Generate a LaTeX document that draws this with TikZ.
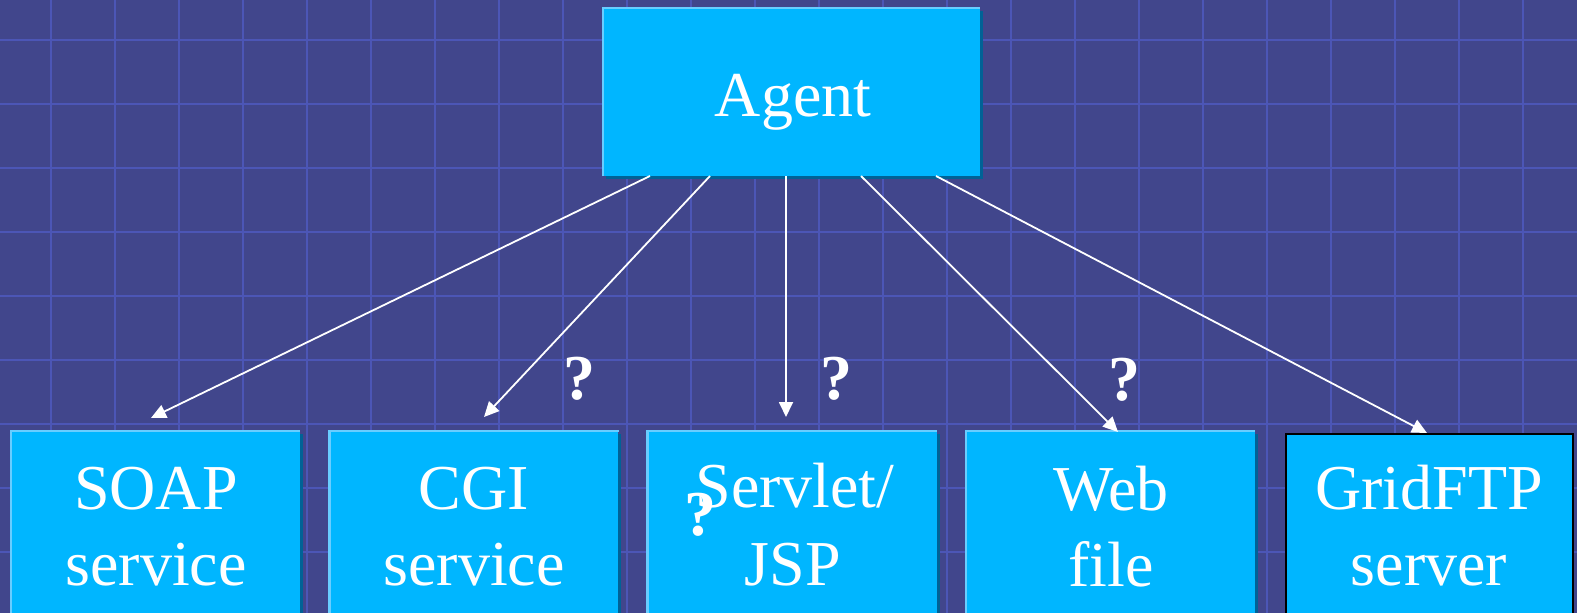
\documentclass[tikz,border=0pt]{standalone}
\usepackage{fontspec}
\setmainfont{Liberation Serif}
\usetikzlibrary{arrows.meta,shadows}
\definecolor{bgc}{RGB}{65,70,140}
\definecolor{gridc}{RGB}{76,86,182}
\definecolor{boxfill}{RGB}{0,182,255}
\definecolor{hilite}{RGB}{105,205,255}
\definecolor{shadc}{RGB}{0,98,150}
\begin{document}
\begin{tikzpicture}[x=1pt,y=-1pt,
  bx/.style={fill=boxfill, draw=none, inner sep=0pt, anchor=north west,
    minimum width=289pt, minimum height=230pt,
    drop shadow={shadow xshift=3pt, shadow yshift=-3pt, fill=shadc, opacity=1}},
  lbl/.style={text=white, font=\fontsize{64}{76}\selectfont, anchor=base, inner sep=0pt},
  qm/.style={text=white, font=\fontsize{64}{76}\selectfont\bfseries, anchor=base, inner sep=0pt},
  arr/.style={draw=white, line width=1.8pt, -{Triangle[length=15pt,width=14pt]}},
  hl/.style={draw=hilite, line width=2.5pt},
  gridl/.style={draw=gridc, line width=2pt}]
\useasboundingbox (0,0) rectangle (1577,613);
\clip (0,0) rectangle (1577,613);
\fill[bgc] (0,0) rectangle (1577,613);
% grid
\foreach \i in {0,...,23} \draw[gridl] (51.3+64*\i,0) -- (51.3+64*\i,613);
\foreach \j in {0,...,8} \draw[gridl] (0,40.3+64*\j) -- (1577,40.3+64*\j);
% agent
\node[bx, minimum width=377pt, minimum height=168pt] (agent) at (603,8) {};
\draw[hl] (agent.south west) -- (agent.north west) -- (agent.north east);
\node[lbl] (agentT) at (793,116.7) {Agent};
% lower boxes
\node[bx] (soap) at (11,431) {};
\node[bx] (cgi) at (329.25,431) {};
\node[bx] (servlet) at (647.5,431) {};
\node[bx] (web) at (965.75,431) {};
\node[fill=boxfill, draw=black, line width=2pt, inner sep=0pt, anchor=north west,
    minimum width=287pt, minimum height=230pt] (grid) at (1285,433) {};
\foreach \b in {soap,cgi,servlet,web}
  \draw[hl] (\b.south west) -- (\b.north west) -- (\b.north east);
% labels
\node[lbl] (soapA) at (156,509) {SOAP};
\node[lbl] (soapB) at (156,585) {service};
\node[lbl] (cgiA) at (474,509) {CGI};
\node[lbl] (cgiB) at (474,585) {service};
\node[lbl] (servA) at (795,507) {Servlet/};
\node[lbl] (servB) at (793,585) {JSP};
\node[lbl] (webA) at (1111,510) {Web};
\node[lbl] (webB) at (1111,586) {file};
\node[lbl] (gridA) at (1429,509) {GridFTP};
\node[lbl] (gridB) at (1429,585) {server};
% question marks
\node[qm] (q1) at (579,399) {?};
\node[qm] (q2) at (836,399) {?};
\node[qm] (q3) at (1124,400) {?};
\node[qm] (q4) at (700,535) {?};
% connector end points
\coordinate (s1) at (650,176);
\coordinate (s2) at (710,176);
\coordinate (s3) at (786,176);
\coordinate (s4) at (861,176);
\coordinate (s5) at (936,176);
\coordinate (e1) at (151,418);
\coordinate (e2) at (484,417);
\coordinate (e3) at (786,417);
\coordinate (e4) at (1118,432);
\coordinate (e5) at (1427,433);
\foreach \k in {1,...,5} \draw[arr] (s\k) -- (e\k);
\end{tikzpicture}
\end{document}
